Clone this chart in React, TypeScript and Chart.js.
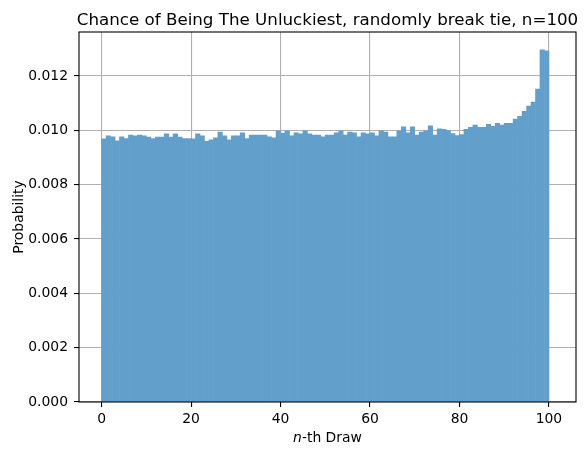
import React, { useEffect, useRef } from "react";
import { Chart, registerables } from "chart.js";

Chart.register(...registerables);

// probability of each draw position (bin width 1, edges 0..101)
const drawProb = [
  0.00969, 0.0098, 0.00976, 0.00961, 0.00976, 0.0097, 0.00983, 0.0098, 0.00983, 0.0098,
  0.00975, 0.0097, 0.00975, 0.00975, 0.00987, 0.00975, 0.00987, 0.00975, 0.0097, 0.0097,
  0.00969, 0.00987, 0.0098, 0.0096, 0.00965, 0.00972, 0.00994, 0.0098, 0.00965, 0.0098,
  0.0098, 0.00991, 0.0097, 0.00983, 0.00983, 0.00983, 0.00983, 0.00976, 0.00972, 0.00998,
  0.0099, 0.00998, 0.0098, 0.00991, 0.00987, 0.00998, 0.00987, 0.00983, 0.00983, 0.00976,
  0.00983, 0.00983, 0.00991, 0.00998, 0.00983, 0.00994, 0.00991, 0.00976, 0.00991, 0.00987,
  0.00991, 0.0098, 0.00998, 0.00994, 0.00976, 0.00976, 0.00998, 0.01013, 0.00991, 0.01013,
  0.00983, 0.00994, 0.00998, 0.01017, 0.00983, 0.01006, 0.01004, 0.00999, 0.00988, 0.00981,
  0.00984, 0.01004, 0.01011, 0.01019, 0.01011, 0.01011, 0.01022, 0.01015, 0.01026, 0.01019,
  0.01026, 0.01026, 0.01041, 0.01052, 0.0107, 0.01089, 0.01104, 0.01152, 0.01296, 0.01293,
];
const binStart = drawProb.map((_, i) => i);
const xTicks = [0, 20, 40, 60, 80, 100];
const yTicks = [0, 0.002, 0.004, 0.006, 0.008, 0.01, 0.012];

const titleText = "Chance of Being The Unluckiest, randomly break tie, n=100";
const FONT = "'DejaVu Sans', sans-serif";

// title, axis labels (with italic n) and the four spines
const framePlugin = {
  id: "frame",
  afterDraw(chart: any) {
    const { ctx, chartArea } = chart;
    const cx = (chartArea.left + chartArea.right) / 2;
    ctx.save();
    ctx.fillStyle = "#000";
    ctx.textBaseline = "alphabetic";

    ctx.font = `16.7px ${FONT}`;
    ctx.textAlign = "center";
    ctx.fillText(titleText, cx, 24.5);

    // x label: "n" italic then "-th Draw"
    ctx.textAlign = "left";
    ctx.font = `italic 13.9px ${FONT}`;
    const wn = ctx.measureText("n").width;
    ctx.font = `13.9px ${FONT}`;
    const wr = ctx.measureText("-th Draw").width;
    const x0 = cx - (wn + wr) / 2;
    ctx.font = `italic 13.9px ${FONT}`;
    ctx.fillText("n", x0, 441.5);
    ctx.font = `13.9px ${FONT}`;
    ctx.fillText("-th Draw", x0 + wn, 441.5);

    // y label
    ctx.translate(22.5, (chartArea.top + chartArea.bottom) / 2);
    ctx.rotate(-Math.PI / 2);
    ctx.textAlign = "center";
    ctx.fillText("Probability", 0, 0);
    ctx.restore();

    ctx.save();
    ctx.strokeStyle = "#000";
    ctx.lineWidth = 1.1;
    ctx.strokeRect(
      chartArea.left,
      chartArea.top,
      chartArea.right - chartArea.left,
      chartArea.bottom - chartArea.top
    );
    ctx.restore();
  },
};

const App: React.FC = () => {
  const canvasRef = useRef<HTMLCanvasElement | null>(null);
  const chartRef = useRef<Chart | null>(null);

  useEffect(() => {
    document.body.style.margin = "0";
    if (chartRef.current) chartRef.current.destroy();
    if (!canvasRef.current) return;

    chartRef.current = new Chart(canvasRef.current, {
      type: "bar",
      data: {
        datasets: [
          {
            data: binStart.map((b, i) => ({ x: b + 0.5, y: drawProb[i] })),
            backgroundColor: "#62a0cb",
            borderWidth: 0,
            barPercentage: 1,
            categoryPercentage: 1,
          },
        ],
      },
      options: {
        animation: false,
        responsive: false,
        layout: { padding: { left: 0, right: 10, top: 32, bottom: 0 } },
        plugins: {
          legend: { display: false },
          tooltip: { enabled: false },
          title: { display: false },
        },
        scales: {
          x: {
            type: "linear",
            min: -5.05,
            max: 106.05,
            offset: false,
            z: 1,
            afterBuildTicks: (scale: any) => {
              scale.ticks = xTicks.map((v) => ({ value: v }));
            },
            afterFit: (scale: any) => {
              scale.height = 54;
            },
            grid: {
              offset: false,
              color: "#b0b0b0",
              lineWidth: 1.1,
              tickColor: "#000",
              tickLength: 5,
              tickWidth: 1.1,
            },
            border: { display: false },
            ticks: {
              color: "#000",
              font: { family: FONT, size: 13.9 },
              padding: 4,
              maxRotation: 0,
              callback: (v: any) => String(v),
            },
          },
          y: {
            min: 0,
            max: 0.01362,
            z: 1,
            afterBuildTicks: (scale: any) => {
              scale.ticks = yTicks.map((v) => ({ value: v }));
            },
            afterFit: (scale: any) => {
              scale.width = 79;
            },
            grid: {
              color: "#b0b0b0",
              lineWidth: 1.1,
              tickColor: "#000",
              tickLength: 5,
              tickWidth: 1.1,
            },
            border: { display: false },
            ticks: {
              color: "#000",
              font: { family: FONT, size: 13.9 },
              padding: 6,
              callback: (v: any) => Number(v).toFixed(3),
            },
          },
        },
      },
      plugins: [framePlugin],
    } as any);

    return () => {
      if (chartRef.current) {
        chartRef.current.destroy();
        chartRef.current = null;
      }
    };
  }, []);

  return (
    <div style={{ position: "absolute", left: 0, top: 0, width: 586, height: 456, background: "#fff" }}>
      <canvas ref={canvasRef} width={586} height={456} style={{ display: "block" }}></canvas>
    </div>
  );
};

export default App;
